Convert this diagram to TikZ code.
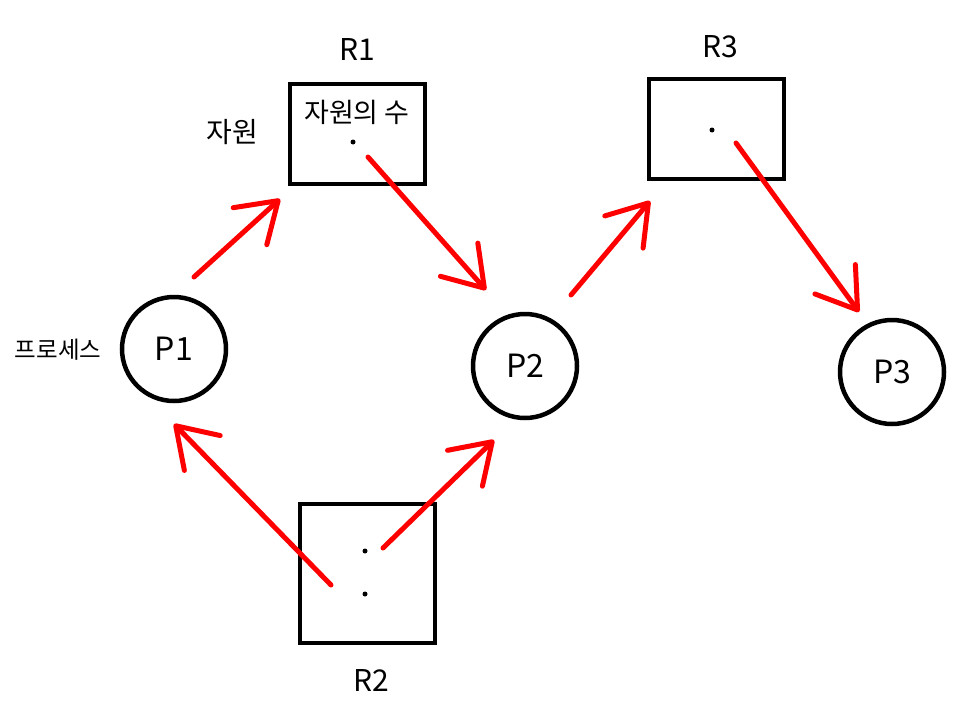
\documentclass[tikz,border=0pt]{standalone}
\usepackage{fontspec}
\setmainfont{Noto Sans CJK KR}
\usetikzlibrary{arrows.meta}
\begin{document}
\begin{tikzpicture}[x=1pt,y=-1pt,
  resbox/.style={draw=black, line width=4.5pt, rectangle, inner sep=0pt},
  proc/.style={draw=black, line width=4.5pt, circle, inner sep=0pt, minimum size=104pt, font=\fontsize{32}{32}\selectfont},
  lbl/.style={inner sep=0pt, font=\fontsize{30}{30}\selectfont},
  klbl/.style={inner sep=0pt, font=\fontsize{27}{27}\selectfont},
  dotmark/.style={circle, fill=black, inner sep=0pt, minimum size=5pt},
  req/.style={draw=red, line width=5pt, line cap=round,
    -{Straight Barb[length=38pt, width=50pt, line width=5pt, round]}}
]
\useasboundingbox (0,0) rectangle (960,712);
% resources
\node[resbox, minimum width=135pt, minimum height=100pt] (R1) at (357.5,134) {};
\node[resbox, minimum width=135pt, minimum height=100pt] (R3) at (716.5,129) {};
\node[resbox, minimum width=135pt, minimum height=139pt] (R2) at (367.5,573.5) {};
\node[lbl] (R1l) at (357,50) {R1};
\node[lbl] (R3l) at (720,47) {R3};
\node[lbl] (R2l) at (371,680) {R2};
\node[klbl] (cnt) at (357,112) {자원의 수};
\node[klbl, font=\fontsize{28}{28}\selectfont] (res) at (232,132) {자원};
\node[klbl, font=\fontsize{23.5}{23.5}\selectfont] (prc) at (58,350) {프로세스};
% dots
\node[dotmark] (d1) at (353,142) {};
\node[dotmark] (d3) at (712,130) {};
\node[dotmark] (d2a) at (365,551) {};
\node[dotmark] (d2b) at (365,594) {};
% processes
\node[proc] (P1) at (174,349) {P1};
\node[proc] (P2) at (525,366) {P2};
\node[proc] (P3) at (892,372) {P3};
% connector end points
\coordinate (a1s) at (194,277);
\coordinate (a1t) at (280,199);
\coordinate (a2s) at (368,157);
\coordinate (a2t) at (486,290);
\coordinate (a3s) at (571,295);
\coordinate (a3t) at (650,201);
\coordinate (a4s) at (736,143);
\coordinate (a4t) at (859,312);
\coordinate (a5s) at (331,585);
\coordinate (a5t) at (174,424);
\coordinate (a6s) at (383,548);
\coordinate (a6t) at (494,440);
\draw[req] (a1s) -- (a1t);
\draw[req] (a2s) -- (a2t);
\draw[req] (a3s) -- (a3t);
\draw[req] (a4s) -- (a4t);
\draw[req] (a5s) -- (a5t);
\draw[req] (a6s) -- (a6t);
\end{tikzpicture}
\end{document}
